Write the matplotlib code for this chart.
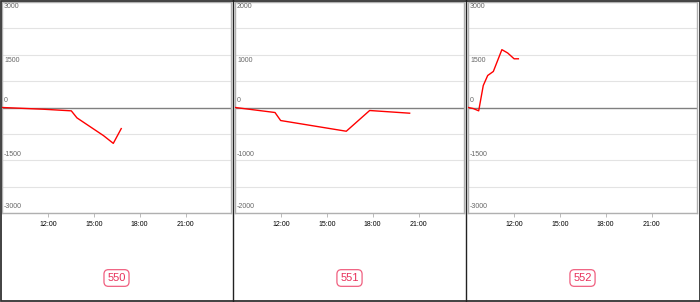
import matplotlib
matplotlib.use("Agg")
import matplotlib.pyplot as plt
from matplotlib.patches import Rectangle

plt.rcParams['font.family'] = ['Liberation Sans', 'DejaVu Sans']

W, H = 700, 302
panel_names = ["550", "551", "552"]
y_limits = [3000, 2000, 3000]
x_ticks = [12, 15, 18, 21]
x_tick_labels = ["12:00", "15:00", "18:00", "21:00"]

t550 = [9.0, 11.73, 13.52, 13.89, 15.63, 16.27, 16.79]
v550 = [0, -50, -95, -295, -800, -1020, -600]
t551 = [9.0, 11.6, 11.97, 16.27, 17.8, 20.42]
v551 = [0, -95, -247, -450, -57, -108]
t552 = [9.0, 9.33, 9.68, 9.98, 10.27, 10.64, 11.2, 11.58, 12.0, 12.28]
v552 = [0, -30, -95, 625, 910, 1025, 1645, 1550, 1385, 1385]
series = [(t550, v550), (t551, v551), (t552, v552)]

fig = plt.figure(figsize=(W / 100, H / 100), dpi=100)

def px(x0, y0, w, h):
    return [x0 / W, 1 - (y0 + h) / H, w / W, h / H]

panel_x = [0, 233, 466]
for i, (name, ylim, (t, v)) in enumerate(zip(panel_names, y_limits, series)):
    x0 = panel_x[i]
    ax = fig.add_axes(px(x0 + 2.3, 2, 229, 211))
    ax.set_xlim(9, 24)
    ax.set_ylim(-ylim, ylim)
    for k in range(-4, 5):
        yv = ylim * k / 4
        if k == 0:
            continue
        ax.axhline(yv, color="#e3e3e3", lw=0.8, zorder=1)
    ax.axhline(0, color="#808080", lw=1.0, zorder=2)
    ax.plot(t, v, color="#ff0000", lw=1.0, zorder=3)
    for s in ax.spines.values():
        s.set_color("#b0b0b0")
        s.set_linewidth(1.0)
    ax.set_yticks([])
    ax.set_xticks(x_ticks)
    ax.set_xticklabels(x_tick_labels, fontsize=5, color="#000000")
    ax.tick_params(axis="x", length=3, width=0.6, color="#b0b0b0", pad=2.5)
    # y labels placed inside
    label_vals = [ylim, ylim / 2, 0, -ylim / 2, -ylim]
    label_y = [7, 61, 101, 154, 207]
    for lv, ly in zip(label_vals, label_y):
        fig.text((x0 + 4) / W, 1 - ly / H, f"{int(lv)}", fontsize=5,
                 color="#666666", ha="left", va="center")
    # name box
    cx = x0 + 116.5
    fig.text(cx / W, 1 - 278 / H, name, fontsize=8, color="#e8305a",
             ha="center", va="center",
             bbox=dict(boxstyle="round,pad=0.3,rounding_size=0.4",
                       fc="white", ec="#f06080", lw=0.9))

# panel borders
for xb in [233, 466]:
    fig.add_artist(plt.Line2D([xb / W, xb / W], [0, 1], color="#222222", lw=1.0,
                              transform=fig.transFigure))
fig.add_artist(Rectangle((0.5 / W, 0.8 / H), (W - 1) / W, (H - 1.5) / H,
                         transform=fig.transFigure, fill=False,
                         ec="#333333", lw=1.3))

fig.savefig("out.png", dpi=100)
